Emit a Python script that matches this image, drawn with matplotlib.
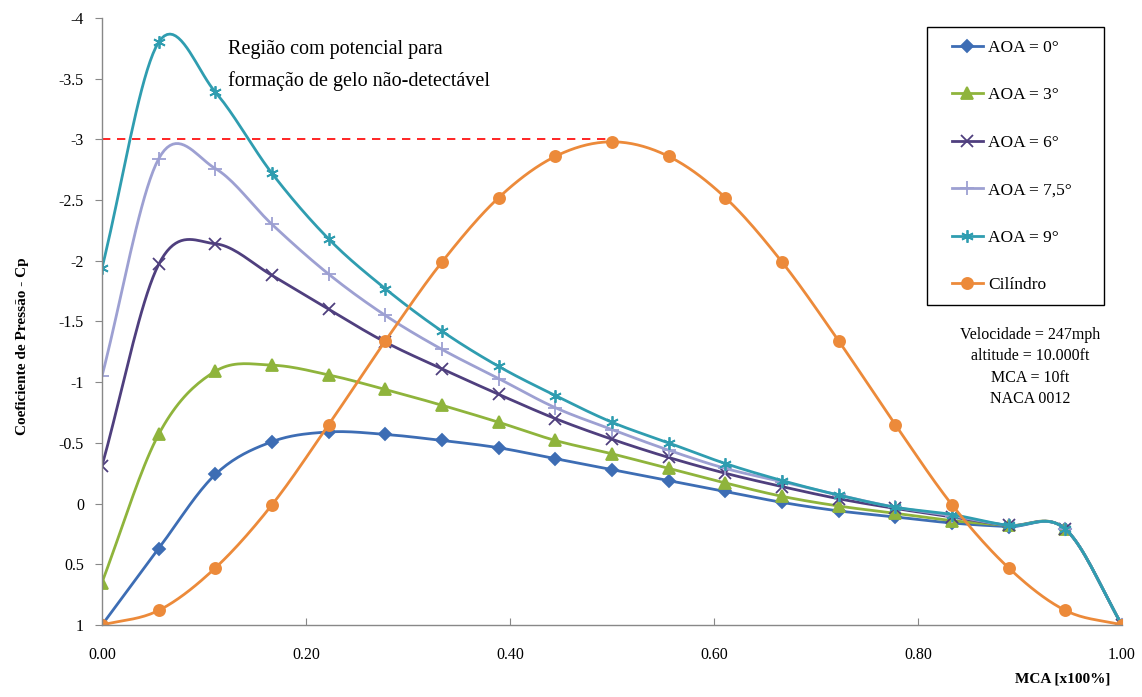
import numpy as np
import matplotlib
matplotlib.use("Agg")
import matplotlib.pyplot as plt
from matplotlib.patches import Rectangle
from matplotlib.ticker import FuncFormatter

plt.rcParams['font.family'] = ['Liberation Serif', 'DejaVu Serif']

# chord positions (x/c), 19 stations
mca = [i / 18 for i in range(19)]

cp_aoa0 = [1.00, 0.37, -0.24, -0.51, -0.59, -0.57, -0.52, -0.46, -0.37, -0.28,
           -0.19, -0.10, -0.01, 0.06, 0.11, 0.16, 0.19, 0.21, 1.00]
cp_aoa3 = [0.65, -0.57, -1.09, -1.14, -1.06, -0.94, -0.81, -0.67, -0.52, -0.41,
           -0.29, -0.17, -0.06, 0.02, 0.08, 0.14, 0.18, 0.21, 1.00]
cp_aoa6 = [-0.31, -1.97, -2.14, -1.88, -1.60, -1.33, -1.11, -0.90, -0.70, -0.53,
           -0.38, -0.25, -0.14, -0.04, 0.04, 0.11, 0.18, 0.21, 1.00]
cp_aoa75 = [-1.05, -2.84, -2.76, -2.30, -1.89, -1.55, -1.27, -1.03, -0.79, -0.61,
            -0.44, -0.29, -0.18, -0.07, 0.03, 0.10, 0.18, 0.21, 1.00]
cp_aoa9 = [-1.94, -3.80, -3.39, -2.72, -2.18, -1.77, -1.42, -1.13, -0.89, -0.67,
           -0.50, -0.33, -0.19, -0.07, 0.03, 0.09, 0.18, 0.21, 1.00]
cp_cyl = [1.00, 0.88, 0.53, 0.01, -0.65, -1.34, -1.99, -2.52, -2.86, -2.98,
          -2.86, -2.52, -1.99, -1.34, -0.65, 0.01, 0.53, 0.88, 1.00]

labels = ['AOA = 0°', 'AOA = 3°', 'AOA = 6°', 'AOA = 7,5°', 'AOA = 9°', 'Cilíndro']
series = [cp_aoa0, cp_aoa3, cp_aoa6, cp_aoa75, cp_aoa9, cp_cyl]
colors = ['#3d6db4', '#8fb43c', '#4f3f7e', '#9da0d2', '#2f9db0', '#ec8a3a']
markers = ['D', '^', 'x', '+', (6, 2, 0), 'o']
msizes = [6, 8, 8, 10, 9, 8]

ice_limit = -3.0


def smooth(x, y, n=20):
    # excel-style smoothed line (catmull-rom through the points)
    x = np.asarray(x, float)
    y = np.asarray(y, float)
    xs, ys = [], []
    k = len(x)
    for i in range(k - 1):
        x0, x1 = x[i], x[i + 1]
        y0, y1 = y[i], y[i + 1]
        if i == 0:
            mx0, my0 = x1 - x0, y1 - y0
        else:
            mx0, my0 = (x1 - x[i - 1]) / 2, (y1 - y[i - 1]) / 2
        if i == k - 2:
            mx1, my1 = x1 - x0, y1 - y0
        else:
            mx1, my1 = (x[i + 2] - x0) / 2, (y[i + 2] - y0) / 2
        t = np.linspace(0, 1, n, endpoint=False)
        h00 = 2 * t**3 - 3 * t**2 + 1
        h10 = t**3 - 2 * t**2 + t
        h01 = -2 * t**3 + 3 * t**2
        h11 = t**3 - t**2
        xs.append(h00 * x0 + h10 * mx0 + h01 * x1 + h11 * mx1)
        ys.append(h00 * y0 + h10 * my0 + h01 * y1 + h11 * my1)
    xs.append([x[-1]])
    ys.append([y[-1]])
    return np.concatenate(xs), np.concatenate(ys), list(range(0, n * (k - 1) + 1, n))


fig = plt.figure(figsize=(11.42, 6.97), dpi=100)
ax = fig.add_axes([0.0893, 0.1033, 0.8932, 0.8709])

for y, lab, c, m, ms in zip(series, labels, colors, markers, msizes):
    sx, sy, idx = smooth(mca, y)
    ax.plot(sx, sy, color=c, lw=2.0, marker=m, markevery=idx, ms=ms,
            mec=c, mfc=c, mew=1.3, label=lab)

ax.plot([0, 0.5], [ice_limit, ice_limit], color='red', lw=1.2, ls=(0, (5, 4)))

ax.set_xlim(0, 1)
ax.set_ylim(1, -4)
ax.set_xticks([0, 0.2, 0.4, 0.6, 0.8, 1.0])
ax.set_yticks(np.arange(-4, 1.01, 0.5))
ax.xaxis.set_major_formatter(FuncFormatter(lambda v, p: f"{v:.2f}"))
ax.yaxis.set_major_formatter(FuncFormatter(lambda v, p: "0" if abs(v) < 1e-9 else f"{v:g}"))
ax.tick_params(axis='x', direction='in', length=5, pad=16, labelsize=11.5, color='#888888')
ax.tick_params(axis='y', direction='out', length=5, pad=8, labelsize=11.5, color='#888888')
for s in ['top', 'right']:
    ax.spines[s].set_visible(False)
for s in ['left', 'bottom']:
    ax.spines[s].set_color('#888888')
    ax.spines[s].set_linewidth(1.0)

ax.set_ylabel('Coeficiente de Pressão - Cp', fontsize=11, fontweight='bold')
ax.yaxis.set_label_coords(-0.072, 0.46)
fig.text(0.972, 0.017, 'MCA [x100%]', ha='right', va='bottom', fontsize=11, fontweight='bold')

ax.text(0.124, 0.963, 'Região com potencial para\nformação de gelo não-detectável',
        transform=ax.transAxes, ha='left', va='top', fontsize=14.5, linespacing=1.75)

# legend: own frame so the padding matches
ax.add_patch(Rectangle((0.809, 0.527), 0.173, 0.458, transform=ax.transAxes,
                       fill=False, edgecolor='black', lw=1.0, zorder=5))
leg = ax.legend(loc='upper left', bbox_to_anchor=(0.833, 0.964), fontsize=12.5,
                numpoints=1, handlelength=1.8, handletextpad=0.3, labelspacing=1.8,
                borderpad=0, borderaxespad=0, frameon=False)

ax.text(0.91, 0.491, 'Velocidade = 247mph\naltitude = 10.000ft\nMCA = 10ft\nNACA 0012',
        transform=ax.transAxes, ha='center', va='top', fontsize=11.5, linespacing=1.45)

fig.savefig('out.png', dpi=100)
